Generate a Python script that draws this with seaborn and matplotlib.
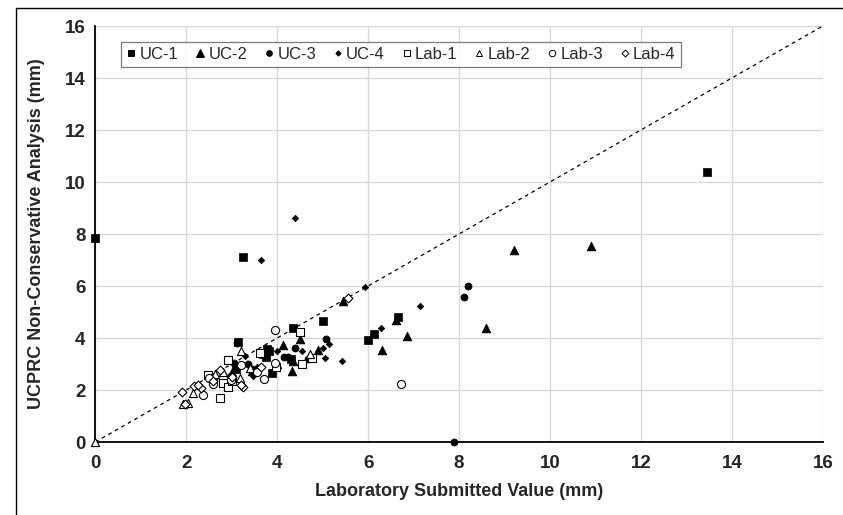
import matplotlib
matplotlib.use("Agg")
import matplotlib.pyplot as plt
import seaborn as sns
import pandas as pd
from matplotlib.lines import Line2D

# series (x = lab submitted, y = UCPRC analysis), mm
uc1_x = [0.0, 3.25, 13.45, 3.15, 3.1, 3.77, 3.82, 3.7, 3.75, 3.88, 4.35, 4.3, 5.0, 6.0, 6.13, 6.65]
uc1_y = [7.85, 7.1, 10.4, 3.85, 2.8, 3.58, 3.5, 3.37, 3.28, 2.65, 4.37, 3.2, 4.65, 3.92, 4.15, 4.82]

uc2_x = [9.2, 10.9, 8.6, 6.85, 6.3, 6.62, 5.45, 4.5, 4.12, 4.9, 4.35, 4.32, 4.0, 3.45, 3.0]
uc2_y = [7.4, 7.55, 4.4, 4.08, 3.55, 4.7, 5.42, 3.95, 3.72, 3.55, 3.12, 2.75, 3.0, 2.75, 2.7]

uc3_x = [8.2, 8.1, 7.88, 5.08, 4.4, 4.15, 4.23, 4.68, 3.05, 3.35, 3.45, 3.11]
uc3_y = [6.0, 5.57, 0.0, 3.97, 3.6, 3.27, 3.27, 3.2, 3.05, 3.0, 2.8, 3.8]

uc4_x = [4.4, 3.65, 5.93, 7.14, 6.29, 5.13, 5.0, 4.0, 4.55, 5.05, 5.42, 3.3, 3.55, 3.47, 2.95]
uc4_y = [8.6, 7.0, 5.95, 5.23, 4.4, 3.77, 3.63, 3.5, 3.5, 3.22, 3.12, 3.3, 2.87, 2.55, 2.55]

lab1_x = [4.5, 3.62, 2.91, 2.49, 2.8, 2.92, 2.74, 4.55, 4.76, 3.97, 3.0, 2.6]
lab1_y = [4.22, 3.43, 3.15, 2.58, 2.26, 2.1, 1.68, 3.0, 3.22, 2.87, 2.35, 2.45]

lab2_x = [0.0, 3.2, 4.73, 2.63, 2.8, 3.18, 2.14, 1.94, 3.4, 2.05]
lab2_y = [0.0, 3.5, 3.37, 2.6, 2.7, 2.45, 1.87, 1.47, 2.85, 1.5]

lab3_x = [3.96, 6.72, 3.71, 2.59, 2.98, 2.36, 3.96, 3.2, 3.55, 2.5]
lab3_y = [4.31, 2.22, 2.41, 2.22, 2.38, 1.81, 3.05, 2.95, 2.7, 2.45]

lab4_x = [5.55, 1.91, 2.18, 2.32, 1.97, 3.25, 3.2, 2.74, 2.25, 3.0, 2.6, 3.65]
lab4_y = [5.55, 1.93, 2.15, 2.06, 1.45, 2.1, 2.2, 2.77, 2.2, 2.5, 2.35, 2.9]

series_names = ["UC-1", "UC-2", "UC-3", "UC-4", "Lab-1", "Lab-2", "Lab-3", "Lab-4"]
series_x = [uc1_x, uc2_x, uc3_x, uc4_x, lab1_x, lab2_x, lab3_x, lab4_x]
series_y = [uc1_y, uc2_y, uc3_y, uc4_y, lab1_y, lab2_y, lab3_y, lab4_y]

# marker, size, filled
styles = {
    "UC-1": ("s", 34, True),
    "UC-2": ("^", 40, True),
    "UC-3": ("o", 26, True),
    "UC-4": ("D", 11, True),
    "Lab-1": ("s", 34, False),
    "Lab-2": ("^", 34, False),
    "Lab-3": ("o", 34, False),
    "Lab-4": ("D", 20, False),
}

rows = []
for name, xs, ys in zip(series_names, series_x, series_y):
    for xv, yv in zip(xs, ys):
        rows.append({"series": name, "lab": xv, "ucprc": yv})
df = pd.DataFrame(rows)

sns.set_style("white")
plt.rcParams["font.family"] = ["Liberation Sans", "DejaVu Sans"]

fig = plt.figure(figsize=(8.43, 5.15), dpi=100)
ax = fig.add_axes([0.113, 0.1417, 0.863, 0.8078])

# line of equality
ax.plot([0, 16], [0, 16], color="black", lw=0.9, ls=(0, (3, 3)), zorder=2)

handles = []
for name in series_names:
    marker, size, filled = styles[name]
    sub = df[df["series"] == name]
    if filled:
        sns.scatterplot(data=sub, x="lab", y="ucprc", ax=ax, marker=marker, s=size,
                        color="black", edgecolor="black", linewidth=0.5,
                        clip_on=False, zorder=3, legend=False)
    else:
        sns.scatterplot(data=sub, x="lab", y="ucprc", ax=ax, marker=marker, s=size,
                        facecolor="white", edgecolor="black", linewidth=0.8,
                        clip_on=False, zorder=3, legend=False)
    handles.append(Line2D([], [], ls="none", marker=marker,
                          markersize=(size ** 0.5) * 0.8,
                          markerfacecolor="black" if filled else "white",
                          markeredgecolor="black", markeredgewidth=0.7, label=name))

ax.set_xlim(0, 16)
ax.set_ylim(0, 16)
ax.set_xticks(range(0, 17, 2))
ax.set_yticks(range(0, 17, 2))
ax.grid(True, color="#d9d9d9", lw=1)
ax.set_axisbelow(True)
ax.tick_params(length=0, labelsize=13.5)
ax.tick_params(axis="x", pad=9)
ax.tick_params(axis="y", pad=7)
for lbl in ax.get_xticklabels() + ax.get_yticklabels():
    lbl.set_fontweight("bold")

for side in ["top", "right"]:
    ax.spines[side].set_visible(False)
for side in ["left", "bottom"]:
    ax.spines[side].set_color("black")
    ax.spines[side].set_linewidth(1.3)

ax.set_xlabel("Laboratory Submitted Value (mm)", fontsize=13, fontweight="bold", labelpad=8)
ax.set_ylabel("UCPRC Non-Conservative Analysis (mm)", fontsize=13, fontweight="bold", labelpad=14)

leg = ax.legend(handles=handles, ncol=8, loc="upper left", bbox_to_anchor=(0.036, 0.962),
                fontsize=12, frameon=True, fancybox=False, handlelength=0.6,
                handletextpad=0.2, columnspacing=1.0, borderpad=0.3, borderaxespad=0)
leg.get_frame().set_edgecolor("#595959")
leg.get_frame().set_linewidth(0.9)

# outer chart border (cropped at right and bottom in the reference)
fig.add_artist(Line2D([16 / 843, 16 / 843], [0, 1 - 8 / 515], transform=fig.transFigure,
                      color="black", lw=1))
fig.add_artist(Line2D([16 / 843, 1], [1 - 8 / 515, 1 - 8 / 515], transform=fig.transFigure,
                      color="black", lw=1))

fig.savefig("out.png", dpi=100)
